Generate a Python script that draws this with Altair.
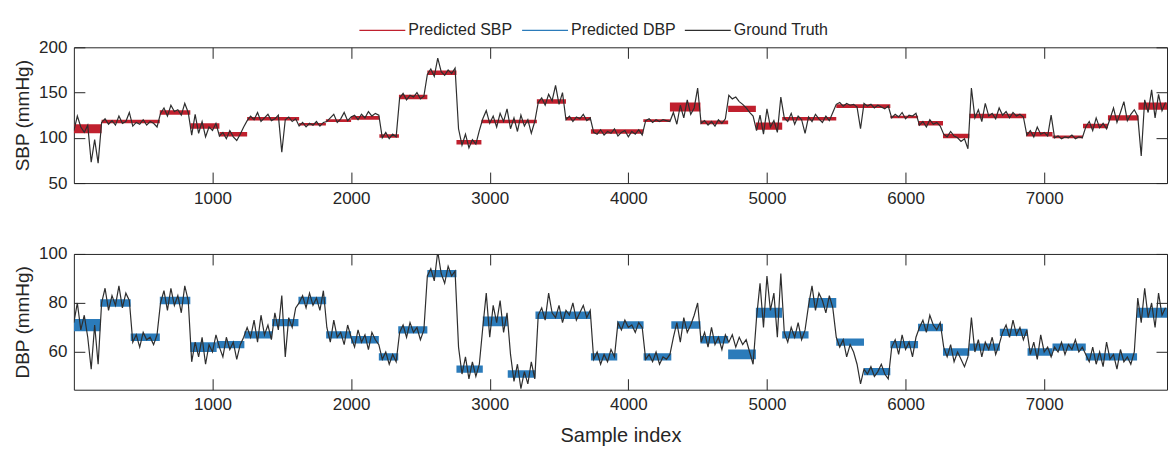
import altair as alt
import pandas as pd

# ---------------- data ----------------
GT_STEP = 25
X_MAX = 7886          # last sample index

sbp_gt = [
    108, 124, 112, 106, 114, 73, 98, 72,
    117, 121, 115, 119, 114, 124, 116, 118, 128, 113, 117, 115, 120, 114, 118, 116, 112,
    127, 133, 124, 136, 129, 131, 125, 138, 128,
    103, 126, 105, 118, 101, 112, 108, 116,
    102, 106, 99, 108, 101, 97, 104, 112,
    119, 124, 120, 128, 118, 122, 126, 119, 121, 125, 84, 120, 123, 118, 121,
    113, 117, 112, 116, 114, 118, 113, 117,
    118, 122, 126, 117, 121, 128, 119, 123, 125, 120, 126, 122, 129, 124, 127, 125,
    100, 106, 99, 104, 101,
    144, 149, 142, 147, 145, 150, 143, 146,
    170, 176, 168, 188, 173, 169, 175, 171, 177,
    110, 92, 104, 89, 98, 93, 108,
    121, 130, 116, 124, 112, 127, 118, 132, 110, 122, 107, 125, 113, 120, 105, 118,
    139, 144, 136, 148, 141, 158, 137, 150,
    120, 124, 118, 123, 121, 126, 119, 122,
    106, 104, 109, 103, 107, 105, 110, 102, 106, 108, 101, 107, 104, 109, 103,
    119, 121, 117, 120, 118, 120, 119,
    118, 128, 115, 136, 122, 142, 126, 133, 155,
    116, 119, 114, 118, 113, 120, 116, 121,
    147, 143, 145, 140, 137, 133, 128, 124,
    108, 125, 104, 132, 112, 119, 106, 145,
    122, 118, 127, 115, 124, 120, 105, 123, 118, 126, 121, 117, 124, 119, 128,
    137, 139, 135, 138, 136, 137, 134, 110, 138, 135, 137, 133, 136, 134, 132, 135,
    122, 126, 123, 128, 121, 125, 124, 127,
    114, 118, 112, 120, 115, 117, 113,
    104, 101, 107, 102, 100, 96, 99, 88,
    155, 122, 131, 118, 138, 124, 127, 121, 133, 125, 129, 122, 128, 124, 126, 123,
    103, 108, 101, 112, 104, 106, 102, 125,
    100, 102, 99, 101, 100, 103, 99, 101, 100,
    112, 118, 108, 122, 111, 116, 110,
    121, 133, 117, 128, 140, 119, 126, 131, 124,
    80, 142, 128, 153, 122, 148, 130, 139,
]

dbp_gt = [
    72, 80, 69, 75, 66, 53, 71, 55,
    80, 86, 77, 83, 79, 87, 78, 84, 81,
    64, 67, 62, 68, 65, 66, 63, 67,
    80, 85, 77, 86, 79, 83, 76, 87, 81,
    56, 64, 58, 66, 55, 63, 60, 67,
    62, 58, 66, 61, 64, 57, 63, 66,
    70, 66, 73, 64, 75, 67, 71, 65,
    76, 69, 83, 58, 74, 70, 78,
    80, 83, 78, 84, 79, 82, 77, 85,
    70, 64, 73, 66, 68, 63, 71,
    66, 62, 69, 64, 67, 61, 68, 65,
    63, 57, 60, 55, 59, 56,
    68, 71, 66, 72, 68, 70, 65, 69,
    91, 94, 89, 101, 92, 88, 95, 91, 93,
    62, 51, 58, 49, 56, 50, 55,
    70, 84, 66, 79, 72, 81, 68, 76,
    59, 48, 55, 45, 52, 47, 56, 49,
    75, 78, 73, 84, 76, 74, 79, 72, 77, 75, 80, 73, 76, 79, 74, 77,
    57, 60, 55, 59, 56, 61, 58,
    72, 69, 73, 70, 71, 68, 72, 70,
    57, 59, 56, 60, 55, 58, 57, 59,
    66, 72, 64, 74, 68, 71, 75, 80,
    64, 68, 62, 70, 63, 66, 61, 67,
    64, 67, 62, 66, 63, 65, 60, 55,
    74, 88, 70, 91, 77, 84, 66, 92,
    68, 64, 70, 66, 72, 65, 69,
    79, 87, 77, 84, 81, 76, 83, 78,
    66, 62, 65, 58, 63, 60, 55, 47,
    53, 51, 54, 50, 52, 55, 51, 49,
    62, 65, 59, 67, 61, 64, 58, 66,
    70, 73, 68, 75, 71, 69, 72,
    62, 58, 63, 56, 60, 57, 54, 58,
    74, 60, 65, 58, 64, 61, 66, 59, 63,
    68, 71, 66, 73, 67, 70, 65, 69,
    59, 64, 57, 67, 60, 62, 58,
    62, 60, 64, 59, 63, 61, 65, 60, 62,
    59, 56, 62, 55, 60, 54, 64, 57, 59, 53, 61, 56, 58, 55, 60,
    82, 72, 86, 74, 80, 70, 84, 75, 78,
]

# predicted SBP: piecewise segments (start sample, band low, band high)
sbp_seg_start = [0, 200, 620, 840, 1050, 1250, 1625, 1818, 2000, 2204, 2345, 2550, 2760,
                 2940, 3340, 3550, 3730, 4108, 4300, 4520, 4720, 4920, 5110, 5500, 5890,
                 6090, 6270, 6460, 6870, 7060, 7280, 7460, 7680]
sbp_seg_lo = [105, 116, 125.5, 110, 101.5, 119, 113.5, 117.5, 120, 100, 142.5, 169.5, 92.5,
              116, 137.5, 119, 104.5, 117.5, 129, 115, 128.5, 109, 119, 133, 121.5,
              113.5, 99.5, 121.5, 101.5, 99.5, 110.5, 119, 131]
sbp_seg_hi = [115, 120, 130.5, 116, 106.5, 123, 116.5, 120.5, 124, 104, 147.5, 174.5, 97.5,
              120, 142.5, 123, 109.5, 120.5, 139, 119, 135.5, 117, 123, 137, 124.5,
              118.5, 104.5, 126.5, 106.5, 102.5, 115.5, 125, 139]

# predicted DBP
dbp_seg_start = [0, 190, 410, 620, 840, 1030, 1230, 1430, 1620, 1820, 2000, 2200, 2340,
                 2550, 2760, 2950, 3130, 3330, 3730, 3920, 4110, 4310, 4520, 4720, 4920,
                 5110, 5300, 5500, 5700, 5890, 6090, 6270, 6460, 6680, 6880, 7060, 7300, 7670]
dbp_seg_lo = [68.5, 78.5, 64.5, 79.5, 60, 61.5, 65.5, 70.5, 79.5, 65.5, 63.5, 56.5, 67.5,
              90.5, 51.5, 70.5, 49.5, 73.5, 56.5, 69.5, 56.5, 69.5, 63.5, 57, 74,
              65.5, 78, 62.5, 50.5, 61.5, 68.5, 58.5, 60.5, 66.5, 58.5, 60.5, 56.5, 74]
dbp_seg_hi = [73.5, 81.5, 67.5, 82.5, 64, 64.5, 68.5, 73.5, 82.5, 68.5, 66.5, 59.5, 70.5,
              93.5, 54.5, 74.5, 52.5, 76.5, 59.5, 72.5, 59.5, 72.5, 66.5, 61, 78,
              68.5, 82, 65.5, 53.5, 64.5, 71.5, 61.5, 63.5, 69.5, 61.5, 63.5, 59.5, 78]

x_ticks = [1000, 2000, 3000, 4000, 5000, 6000, 7000]
sbp_ticks = [50, 100, 150, 200]
dbp_ticks = [60, 80, 100]
series_names = ["Predicted SBP", "Predicted DBP", "Ground Truth"]
series_colors = ["#C0202E", "#2B7BBA", "#2E2E2E"]

# ---------------- frames ----------------
gt_x = list(range(0, GT_STEP * len(sbp_gt), GT_STEP))
sbp_gt_df = pd.DataFrame({"sample": gt_x, "value": sbp_gt, "series": "Ground Truth"})
dbp_gt_df = pd.DataFrame({"sample": gt_x, "value": dbp_gt, "series": "Ground Truth"})
sbp_seg_df = pd.DataFrame({"start": sbp_seg_start, "end": sbp_seg_start[1:] + [X_MAX],
                           "lo": sbp_seg_lo, "hi": sbp_seg_hi})
dbp_seg_df = pd.DataFrame({"start": dbp_seg_start, "end": dbp_seg_start[1:] + [X_MAX],
                           "lo": dbp_seg_lo, "hi": dbp_seg_hi})

FONT = "Liberation Sans"
AX = "#262626"
TICK = 11
color_scale = alt.Scale(domain=series_names, range=series_colors)
xs = alt.Scale(domain=[0, X_MAX], nice=False, zero=False)


def axis(orient, values, labels, title=None, title_pad=5, title_size=19):
    kw = dict(orient=orient, values=values, offset=-TICK, tickSize=TICK, domain=False,
              grid=False, tickColor=AX, tickWidth=1, labels=labels, format="d")
    if labels:
        kw.update(labelFont=FONT, labelFontSize=17, labelColor=AX, labelPadding=7)
    if title:
        kw.update(title=title, titleFont=FONT, titleFontSize=title_size,
                  titleFontWeight="normal", titleColor=AX, titlePadding=title_pad)
    else:
        kw.update(title=None)
    return alt.Axis(**kw)


legend = alt.Legend(orient="none", legendX=285, legendY=-41, direction="horizontal",
                    title=None, labelFont=FONT, labelFontSize=16, labelColor=AX,
                    symbolType="stroke", symbolSize=2116, symbolStrokeWidth=1.3,
                    labelOffset=2, columnPadding=6)


def panel(gt_df, seg_df, band_color, ydom, yticks, ytitle, xtitle=None):
    ys = alt.Scale(domain=ydom, nice=False, zero=False)
    band = alt.Chart(seg_df).mark_rect(clip=True, color=band_color).encode(
        x=alt.X("start:Q", scale=xs,
                axis=axis("bottom", x_ticks, True, xtitle, 13, 20)),
        x2="end:Q",
        y=alt.Y("lo:Q", scale=ys, axis=axis("left", yticks, True, ytitle, 6)),
        y2="hi:Q",
    )
    gt = alt.Chart(gt_df).mark_line(clip=True, strokeWidth=1.2).encode(
        x=alt.X("sample:Q", scale=xs, axis=axis("top", x_ticks, False)),
        y=alt.Y("value:Q", scale=ys, axis=axis("right", yticks, False)),
        stroke=alt.Stroke("series:N", scale=color_scale, legend=legend),
    )
    return (alt.layer(band, gt)
            .resolve_axis(x="independent", y="independent")
            .properties(width=1095, height=136))


top = panel(sbp_gt_df, sbp_seg_df, series_colors[0], [50, 200], sbp_ticks, "SBP (mmHg)")
bottom = panel(dbp_gt_df, dbp_seg_df, series_colors[1], [44.6, 100], dbp_ticks,
               "DBP (mmHg)", "Sample index")

chart = (alt.vconcat(top, bottom, spacing=37)
         .properties(padding={"left": 13, "top": 6, "right": 2, "bottom": 4},
                     background="white")
         .configure(font=FONT)
         .configure_view(stroke=AX, strokeWidth=1))

chart.save("out.html", embed_options={"renderer": "svg", "actions": False})
